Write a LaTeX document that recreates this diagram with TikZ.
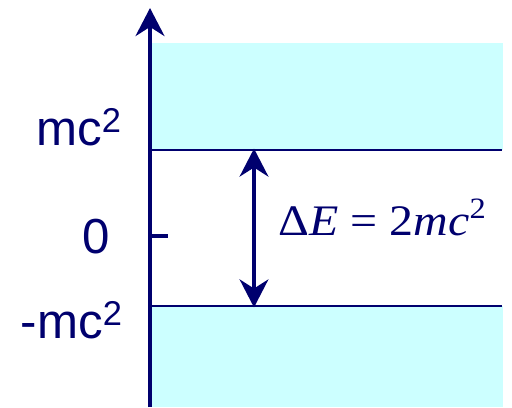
\documentclass[tikz,border=0pt]{standalone}
\usepackage{fontspec}
\setmainfont{Liberation Sans}
\newfontfamily\timesfont[FakeStretch=1.1]{Liberation Serif}
\usetikzlibrary{arrows.meta}
\definecolor{navy}{RGB}{0,0,110}
\definecolor{band}{RGB}{204,255,255}

\begin{document}
\begin{tikzpicture}[
  level/.style={font=\fontsize{35}{40}\selectfont, text=navy, anchor=base east, inner sep=0pt},
  edge/.style={draw=navy, line width=1.5pt},
  tip/.style={-{Stealth[length=0.7cm, width=0.72cm]}}]
\useasboundingbox (0,0) rectangle (12.8,10.175);
% filled bands above mc^2 and below -mc^2
\fill[band] (3.75,6.425) rectangle (12.575,9.1);
\fill[band] (3.75,0) rectangle (12.575,2.525);
\coordinate (upL) at (3.75,6.425);
\coordinate (upR) at (12.55,6.425);
\coordinate (loL) at (3.75,2.525);
\coordinate (loR) at (12.55,2.525);
\draw[edge] (upL) -- (upR);
\draw[edge] (loL) -- (loR);
% energy axis
\coordinate (base) at (3.75,0);
\coordinate (top) at (3.75,9.975);
\draw[navy, line width=2.9pt, tip] (base) -- (top);
\coordinate (zero) at (3.75,4.275);
\coordinate (tick) at (4.2,4.275);
\draw[navy, line width=2.9pt] (zero) -- (tick);
% level labels
\node[level] (mcup) at (3.05,6.55) {mc\textsuperscript{2}};
\node[level] (null) at (2.75,3.85) {0};
\node[level] (mclo) at (3.075,1.725) {-mc\textsuperscript{2}};
% gap arrow
\coordinate (gaptop) at (6.35,6.46);
\coordinate (gapbot) at (6.35,2.49);
\draw[navy, line width=2.3pt, {Stealth[length=0.7cm, width=0.72cm]}-{Stealth[length=0.7cm, width=0.72cm]}] (gaptop) -- (gapbot);
\node[text=navy, anchor=base west, inner sep=0pt, font=\fontsize{31}{36}\selectfont\timesfont] (gap) at (6.95,4.3)
  {Δ\textit{E}\hspace{0.28em}=\hspace{0.28em}2\textit{mc}\raisebox{12pt}{\fontsize{21}{21}\selectfont 2}};
\end{tikzpicture}
\end{document}
